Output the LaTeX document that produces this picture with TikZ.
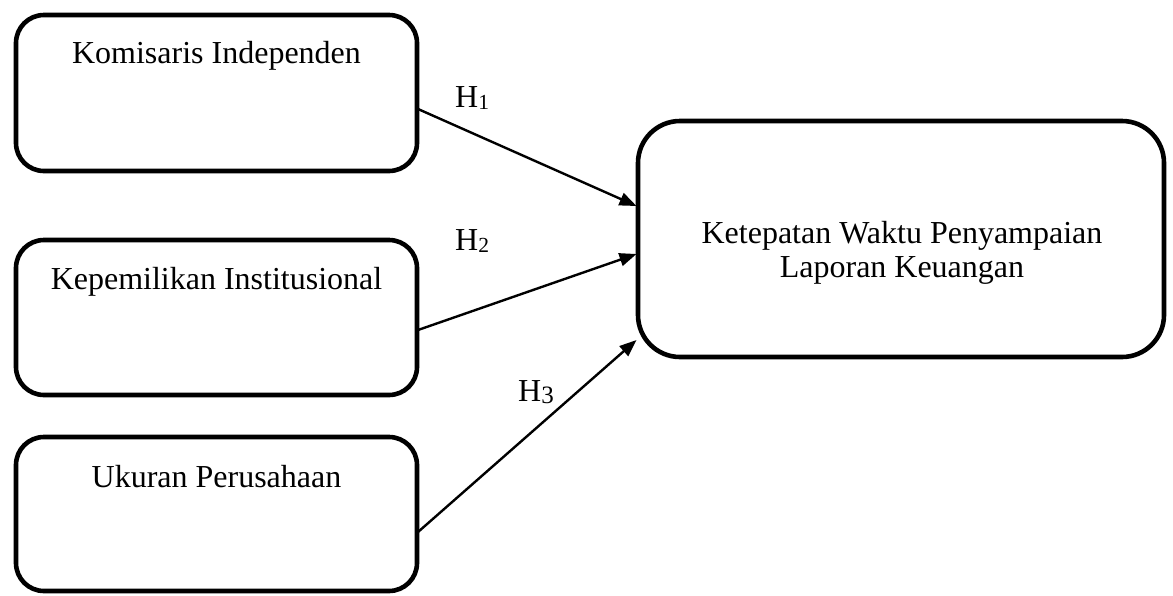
\documentclass[tikz,border=0pt]{standalone}
\usepackage{fontspec}
\setmainfont{Liberation Serif}
\usetikzlibrary{arrows.meta,calc}
\begin{document}
\begin{tikzpicture}[x=1pt,y=-1pt,
  every node/.style={font=\fontsize{32}{34}\selectfont},
  varbox/.style={draw, line width=4.6pt, rounded corners=28pt, inner sep=0pt, outer sep=0pt,
    minimum width=401pt, anchor=north west},
  depbox/.style={draw, line width=4.6pt, rounded corners=42pt, inner sep=0pt, outer sep=0pt,
    minimum width=526pt, minimum height=236pt, anchor=north west},
  link/.style={line width=2.4pt, -{Triangle[length=17pt,width=13pt]}},
  hyp/.style={anchor=base west, inner sep=0pt}
]
\useasboundingbox (0,0) rectangle (1173,595);

\node[varbox, text height=48pt, text depth=108pt] (B1) at (16,15) {Komisaris Independen};
\node[varbox, text height=49pt, text depth=106pt] (B2) at (16,240) {Kepemilikan Institusional};
\node[varbox, text height=50pt, text depth=104pt] (B3) at (16,437) {Ukuran Perusahaan};

\node[depbox] (R) at (638,121) {};
\node[anchor=north, inner sep=0pt, align=center] (Rt) at (902,221.5)
  {Ketepatan Waktu Penyampaian\\Laporan Keuangan};

\draw[link] ($(B1.east)+(1,16)$) -- ($(R.west)+(-1.5,-33)$);
\draw[link] ($(B2.east)+(1,12.5)$) -- ($(R.west)+(-1.5,15)$);
\draw[link] ($(B3.east)+(1,18)$) -- ($(R.west)+(-1.5,101)$);

\node[hyp] (h1) at (455,107) {H\raisebox{-2pt}{\fontsize{21.5}{21.5}\selectfont 1}};
\node[hyp] (h2) at (455,250) {H\raisebox{-2pt}{\fontsize{21.5}{21.5}\selectfont 2}};
\node[hyp] (h3) at (518,401) {H\raisebox{-2pt}{\fontsize{25}{25}\selectfont 3}};
\end{tikzpicture}
\end{document}
